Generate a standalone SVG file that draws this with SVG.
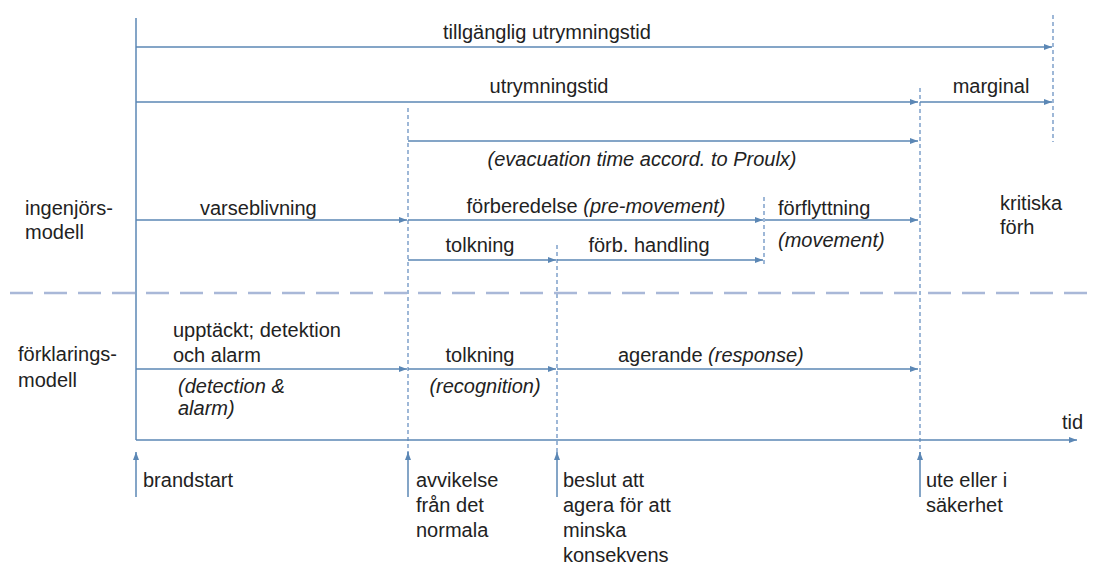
<svg xmlns="http://www.w3.org/2000/svg" width="1097" height="568" viewBox="0 0 1097 568">
<style>
text{font-family:"Liberation Sans",Arial,sans-serif;font-size:20px;fill:#222}
.it{font-style:italic}
.m{text-anchor:middle}
.ln{stroke:#5b87b5;stroke-width:1.5;fill:none}
.ar{stroke:#5b87b5;stroke-width:1.5;fill:none;marker-end:url(#ah)}
.dv{stroke:#6b92c2;stroke-width:1.3;stroke-dasharray:4 3;fill:none}
.div{stroke:#a9b8d8;stroke-width:2.5;stroke-dasharray:23 11;fill:none}
</style>
<defs>
<marker id="ah" viewBox="0 0 8 6" refX="8" refY="3" markerWidth="8" markerHeight="6" markerUnits="userSpaceOnUse" orient="auto">
<path d="M0,0 L8,3 L0,6 z" fill="#5b87b5"/>
</marker>
</defs>
<g id="connectors">
<line class="ln" x1="136" y1="18" x2="136" y2="440"/>
<line class="dv" x1="1053" y1="15" x2="1053" y2="142"/>
<line class="dv" x1="920" y1="88" x2="920" y2="455"/>
<line class="dv" x1="408" y1="108" x2="408" y2="455"/>
<line class="dv" x1="557" y1="245" x2="557" y2="455"/>
<line class="dv" x1="764" y1="197" x2="764" y2="267"/>
<line class="div" x1="10" y1="293" x2="1097" y2="293"/>
<line class="ar" x1="136" y1="47" x2="1052" y2="47"/>
<line class="ar" x1="136" y1="102" x2="918" y2="102"/>
<line class="ar" x1="920" y1="102" x2="1052" y2="102"/>
<line class="ar" x1="408" y1="141" x2="918" y2="141"/>
<line class="ar" x1="136" y1="220" x2="407" y2="220"/>
<line class="ar" x1="408" y1="220" x2="763" y2="220"/>
<line class="ar" x1="765" y1="220" x2="918" y2="220"/>
<line class="ar" x1="408" y1="260" x2="556" y2="260"/>
<line class="ar" x1="557" y1="260" x2="763" y2="260"/>
<line class="ar" x1="136" y1="369" x2="407" y2="369"/>
<line class="ar" x1="408" y1="369" x2="556" y2="369"/>
<line class="ar" x1="557" y1="369" x2="918" y2="369"/>
<line class="ar" x1="136" y1="440" x2="1077" y2="440"/>
<line class="ar" x1="136" y1="497" x2="136" y2="452"/>
<line class="ar" x1="408" y1="497" x2="408" y2="452"/>
<line class="ar" x1="557" y1="497" x2="557" y2="452"/>
<line class="ar" x1="920" y1="497" x2="920" y2="452"/>
</g>
<g id="n-tillganglig"><text class="m" x="547" y="39">tillgänglig utrymningstid</text></g>
<g id="n-utrymningstid"><text class="m" x="549" y="93">utrymningstid</text></g>
<g id="n-marginal"><text class="m" x="991" y="93">marginal</text></g>
<g id="n-proulx"><text class="m it" x="642" y="166">(evacuation time accord. to Proulx)</text></g>
<g id="n-ingenjors"><text x="25" y="215">ingenjörs-</text><text x="25" y="239">modell</text></g>
<g id="n-varseblivning"><text x="200" y="215">varseblivning</text></g>
<g id="n-forberedelse"><text class="m" x="596" y="213">förberedelse <tspan class="it">(pre-movement)</tspan></text></g>
<g id="n-forflyttning"><text x="778" y="215">förflyttning</text><text class="it" x="778" y="247">(movement)</text></g>
<g id="n-kritiska"><text x="1000" y="210">kritiska</text><text x="1000" y="234">förh</text></g>
<g id="n-tolkning1"><text class="m" x="480" y="252">tolkning</text></g>
<g id="n-forbhandling"><text class="m" x="649" y="252">förb. handling</text></g>
<g id="n-forklarings"><text x="18" y="361">förklarings-</text><text x="18" y="387">modell</text></g>
<g id="n-upptackt"><text x="173" y="337">upptäckt; detektion</text><text x="173" y="362">och alarm</text><text class="it" x="178" y="393">(detection &amp;</text><text class="it" x="178" y="415">alarm)</text></g>
<g id="n-tolkning2"><text class="m" x="480" y="362">tolkning</text><text class="m it" x="485" y="393">(recognition)</text></g>
<g id="n-agerande"><text x="618" y="362">agerande <tspan class="it">(response)</tspan></text></g>
<g id="n-tid"><text x="1062" y="429">tid</text></g>
<g id="n-brandstart"><text x="143" y="487">brandstart</text></g>
<g id="n-avvikelse"><text x="416" y="487">avvikelse</text><text x="416" y="512">från det</text><text x="416" y="537">normala</text></g>
<g id="n-beslut"><text x="563" y="487">beslut att</text><text x="563" y="512">agera för att</text><text x="563" y="537">minska</text><text x="563" y="562">konsekvens</text></g>
<g id="n-ute"><text x="926" y="487">ute eller i</text><text x="926" y="512">säkerhet</text></g>
</svg>
